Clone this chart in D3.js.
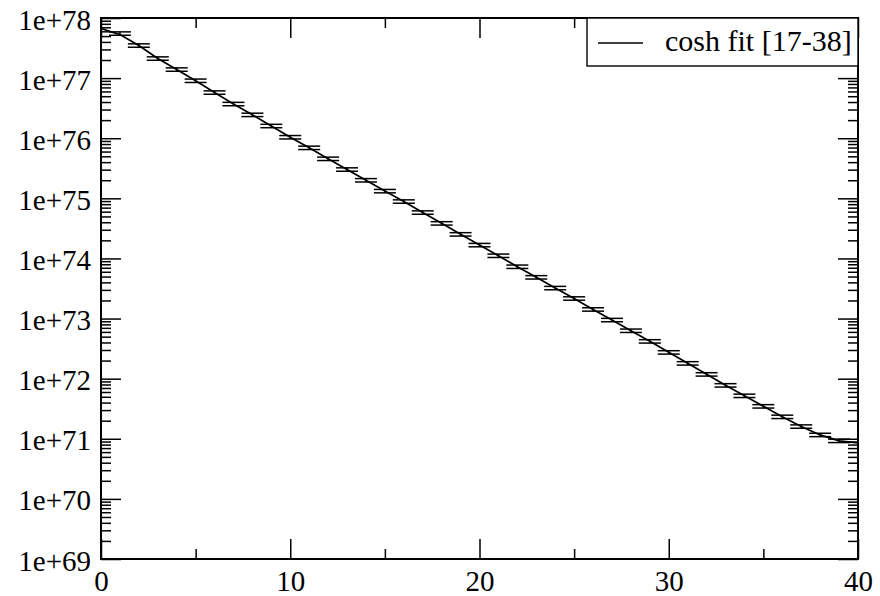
<!DOCTYPE html>
<html>
<head>
<meta charset="utf-8">
<script src="https://cdn.jsdelivr.net/npm/d3@7"></script>
</head>
<body style="margin:0;background:#fff">
<svg id="chart" width="880" height="596" style="display:block"></svg>
<script>
// ---- data ----
const timeSlices = [1,2,3,4,5,6,7,8,9,10,11,12,13,14,15,16,17,18,19,20,
                    21,22,23,24,25,26,27,28,29,30,31,32,33,34,35,36,37,38,39];
const correlator = [5.52e77,3.49e77,2.12e77,1.39e77,9.05e76,5.76e76,3.71e76,2.45e76,1.60e76,1.04e76,
                    6.93e75,4.55e75,3.02e75,2.00e75,1.32e75,8.86e74,5.81e74,3.84e74,2.52e74,1.67e74,
                    1.11e74,7.29e73,4.86e73,3.22e73,2.16e73,1.42e73,9.46e72,6.28e72,4.18e72,2.74e72,
                    1.80e72,1.18e72,7.75e71,5.19e71,3.47e71,2.32e71,1.60e71,1.16e71,9.25e70];
const relError   = [0.065,0.065,0.065,0.065,0.065,0.065,0.065,0.065,0.065,0.065,
                    0.065,0.065,0.065,0.065,0.065,0.065,0.065,0.065,0.065,0.065,
                    0.065,0.065,0.065,0.065,0.065,0.065,0.065,0.065,0.065,0.065,
                    0.065,0.065,0.065,0.065,0.065,0.065,0.065,0.065,0.065];
const fitT       = [0,1,2,3,4,5,6,7,8,9,10,11,12,13,14,15,16,17,18,19,20,
                    21,22,23,24,25,26,27,28,29,30,31,32,33,34,35,36,37,38,39,40];
const fitValues  = [6.69e77,5.30e77,3.49e77,2.12e77,1.39e77,9.05e76,5.76e76,3.71e76,2.45e76,1.60e76,1.04e76,
                    6.93e75,4.55e75,3.02e75,2.00e75,1.32e75,8.86e74,5.81e74,3.84e74,2.52e74,1.67e74,
                    1.11e74,7.29e73,4.86e73,3.22e73,2.16e73,1.42e73,9.46e72,6.28e72,4.18e72,2.74e72,
                    1.80e72,1.18e72,7.75e71,5.19e71,3.47e71,2.32e71,1.60e71,1.16e71,9.25e70,8.55e70];
const legendLabel = "cosh fit [17-38]";
const xMajorTicks = [0,10,20,30,40];
const xMinorTicks = [5,15,25,35];
const yMajorTicks = [1e69,1e70,1e71,1e72,1e73,1e74,1e75,1e76,1e77,1e78];
const yTickLabels = ["1e+69","1e+70","1e+71","1e+72","1e+73","1e+74","1e+75","1e+76","1e+77","1e+78"];
const yMinorMantissas = [2,3,4,5,6,7,8,9];

// ---- layout ----
const L = 101, R = 858, T = 18, B = 559;
const FONT = "29px";
const LEGEND_FONT = "30px";
const FAMILY = "Liberation Serif";
const svg = d3.select("#chart");

const x = d3.scaleLinear().domain([0, 40]).range([L, R]);
const y = d3.scaleLog().domain([1e69, 1e78]).range([B, T]);

const yMinorTicks = [];
yMajorTicks.slice(0, -1).forEach(d => yMinorMantissas.forEach(m => yMinorTicks.push(d * m)));

const plot = svg.append("g");

// fit line
plot.append("path")
  .datum(fitT.map((t, i) => [t, fitValues[i]]))
  .attr("fill", "none").attr("stroke", "#000").attr("stroke-width", 1.7)
  .attr("d", d3.line().x(d => x(d[0])).y(d => y(d[1])));

// error bars
const capW = 11;
const eb = plot.append("g").attr("stroke", "#000").attr("stroke-width", 1.5);
timeSlices.forEach((t, i) => {
  const v = correlator[i], e = v * relError[i];
  const cx = x(t), yHi = y(v + e), yLo = y(v - e);
  eb.append("line").attr("x1", cx).attr("x2", cx).attr("y1", yHi).attr("y2", yLo);
  eb.append("line").attr("x1", cx - capW).attr("x2", cx + capW).attr("y1", yHi).attr("y2", yHi);
  eb.append("line").attr("x1", cx - capW).attr("x2", cx + capW).attr("y1", yLo).attr("y2", yLo);
});

// axes (ticks inward on all four sides)
function styleAxis(g) {
  g.select(".domain").remove();
  g.selectAll(".tick line").attr("stroke", "#000").attr("stroke-width", 1.5);
}
const MAJ = 20, MIN = 10;
svg.append("g").attr("transform", `translate(0,${B})`)
  .call(d3.axisBottom(x).tickValues(xMajorTicks).tickSize(-MAJ).tickFormat(d3.format("d")))
  .call(styleAxis)
  .call(g => g.selectAll("text").attr("y", 32).attr("dy", 0)
      .style("font-family", FAMILY).style("font-size", FONT).attr("fill", "#000"));
svg.append("g").attr("transform", `translate(0,${B})`)
  .call(d3.axisBottom(x).tickValues(xMinorTicks).tickSize(-MIN).tickFormat(""))
  .call(styleAxis);
svg.append("g").attr("transform", `translate(0,${T})`)
  .call(d3.axisTop(x).tickValues(xMajorTicks).tickSize(-MAJ).tickFormat(""))
  .call(styleAxis);
svg.append("g").attr("transform", `translate(0,${T})`)
  .call(d3.axisTop(x).tickValues(xMinorTicks).tickSize(-MIN).tickFormat(""))
  .call(styleAxis);

svg.append("g").attr("transform", `translate(${L},0)`)
  .call(d3.axisLeft(y).tickValues(yMajorTicks).tickSize(-MAJ)
        .tickFormat(d => yTickLabels[yMajorTicks.indexOf(d)]))
  .call(styleAxis)
  .call(g => g.selectAll("text").attr("x", -10).attr("dy", 11)
      .style("font-family", FAMILY).style("font-size", FONT).attr("fill", "#000"));
svg.append("g").attr("transform", `translate(${L},0)`)
  .call(d3.axisLeft(y).tickValues(yMinorTicks).tickSize(-MIN).tickFormat(""))
  .call(styleAxis);
svg.append("g").attr("transform", `translate(${R},0)`)
  .call(d3.axisRight(y).tickValues(yMajorTicks).tickSize(-MAJ).tickFormat(""))
  .call(styleAxis);
svg.append("g").attr("transform", `translate(${R},0)`)
  .call(d3.axisRight(y).tickValues(yMinorTicks).tickSize(-MIN).tickFormat(""))
  .call(styleAxis);

// frame
svg.append("rect").attr("x", L).attr("y", T).attr("width", R - L).attr("height", B - T)
  .attr("fill", "none").attr("stroke", "#000").attr("stroke-width", 2);

// legend
const lg = svg.append("g");
lg.append("rect").attr("x", 587).attr("y", T).attr("width", R - 587).attr("height", 48)
  .attr("fill", "#fff").attr("stroke", "#000").attr("stroke-width", 1.4);
lg.append("line").attr("x1", 598).attr("x2", 643).attr("y1", 43).attr("y2", 43)
  .attr("stroke", "#000").attr("stroke-width", 1.5);
lg.append("text").attr("x", 665).attr("y", 51)
  .style("font-family", FAMILY).style("font-size", LEGEND_FONT).attr("fill", "#000")
  .text(legendLabel);
</script>
</body>
</html>
